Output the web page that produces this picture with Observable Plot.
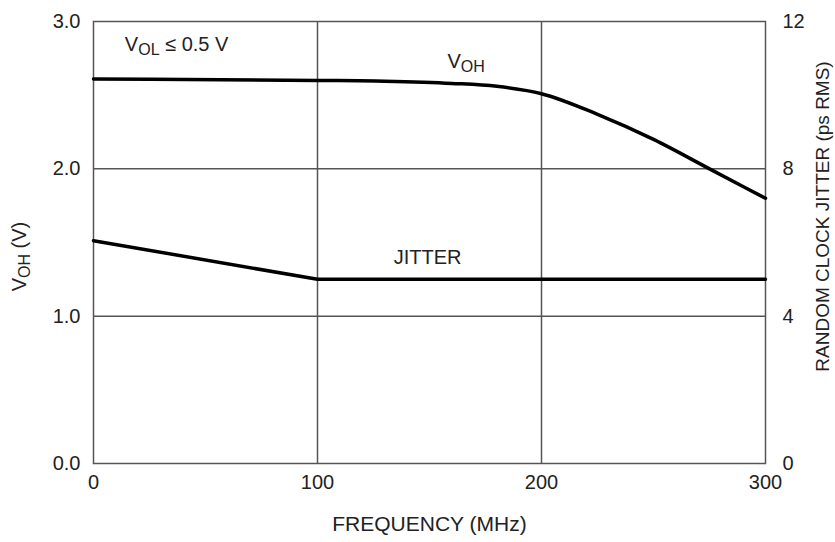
<!DOCTYPE html>
<html>
<head>
<meta charset="utf-8">
<script src="https://cdn.jsdelivr.net/npm/d3@7"></script>
<script src="https://cdn.jsdelivr.net/npm/@observablehq/plot@0.6"></script>
<style>
  html, body { margin: 0; padding: 0; background: white; }
</style>
</head>
<body>
<div id="chart"></div>
<script>
// ---- data ----
const freqVoh = [0, 100, 130, 160, 180, 200, 225, 250, 275, 300];
const vohValues = [2.61, 2.60, 2.595, 2.58, 2.56, 2.51, 2.37, 2.20, 2.00, 1.80];
const freqJitter = [0, 100, 300];
const jitterValues = [6.05, 5.0, 5.0];

const xTicks = [0, 100, 200, 300];
const yTicks = [0, 1, 2, 3];
const jitterTicks = [0, 4, 8, 12];

const annotationTexts = ["V{OL} ≤ 0.5 V", "V{OH}", "JITTER"];
const annotationX = [14, 158, 134];
const annotationY = [2.84, 2.73, 1.395];

// ---- derived tables ----
const ratio = jitterTicks[jitterTicks.length - 1] / yTicks[yTicks.length - 1]; // ps per volt on the shared axis
const vohData = freqVoh.map((f, i) => ({f, v: vohValues[i]}));
const jitterData = freqJitter.map((f, i) => ({f, j: jitterValues[i]}));
const annotations = annotationTexts.map((t, i) => ({t, x: annotationX[i], y: annotationY[i]}));

const gridColor = "#555";
const textColor = "#222";

const plot = Plot.plot({
  width: 835,
  height: 542,
  marginLeft: 93,
  marginRight: 70,
  marginTop: 21,
  marginBottom: 79,
  style: {fontFamily: "'Liberation Sans', Arial, sans-serif", fontSize: "20px", color: textColor, background: "white"},
  x: {domain: [0, 300], axis: null},
  y: {domain: [0, 3], axis: null},
  marks: [
    Plot.gridX(xTicks.slice(1, -1), {stroke: gridColor, strokeOpacity: 1, strokeWidth: 1.5}),
    Plot.gridY(yTicks.slice(1, -1), {stroke: gridColor, strokeOpacity: 1, strokeWidth: 1.5}),
    Plot.frame({stroke: gridColor, strokeWidth: 1.5}),
    Plot.axisX(xTicks, {tickSize: 0, tickPadding: 11, label: null, fill: textColor, fontSize: 20}),
    Plot.axisY(yTicks, {anchor: "left", tickSize: 0, tickPadding: 13, tickFormat: d3.format(".1f"), label: null, fill: textColor, fontSize: 20}),
    Plot.axisY(jitterTicks.map(t => t / ratio), {anchor: "right", tickSize: 0, tickPadding: 17, tickFormat: v => String(Math.round(v * ratio)), label: null, fill: textColor, fontSize: 20}),
    Plot.line(vohData, {x: "f", y: "v", stroke: "black", strokeWidth: 3.5, curve: "monotone-x"}),
    Plot.line(jitterData, {x: "f", y: d => d.j / ratio, stroke: "black", strokeWidth: 3.5}),
    Plot.text(annotations, {x: "x", y: "y", text: "t", textAnchor: "start", fill: textColor, fontSize: 20}),
    Plot.text(["FREQUENCY (MHz)"], {frameAnchor: "bottom", dy: 67, text: d => d, textAnchor: "middle", fill: textColor, fontSize: 21}),
    Plot.text(["V{OH} (V)"], {frameAnchor: "left", dx: -74, dy: 14, rotate: -90, textAnchor: "middle", text: d => d, fill: textColor, fontSize: 20}),
    Plot.text(["RANDOM CLOCK JITTER (ps RMS)"], {frameAnchor: "right", dx: 57, dy: -26, rotate: -90, textAnchor: "middle", text: d => d, fill: textColor, fontSize: 19})
  ]
});

// subscripts: "V{OL}" -> V with subscript OL
d3.select(plot).selectAll("text").each(function () {
  const t = this.textContent;
  if (!t.includes("{")) return;
  const el = d3.select(this);
  el.text(null);
  const m = t.match(/([^{]*)\{([^}]*)\}(.*)/);
  el.append("tspan").text(m[1]);
  el.append("tspan").attr("font-size", "16px").attr("dy", "4").text(m[2]);
  if (m[3]) el.append("tspan").attr("dy", "-4").text(m[3]);
});

document.getElementById("chart").appendChild(plot);
</script>
</body>
</html>
